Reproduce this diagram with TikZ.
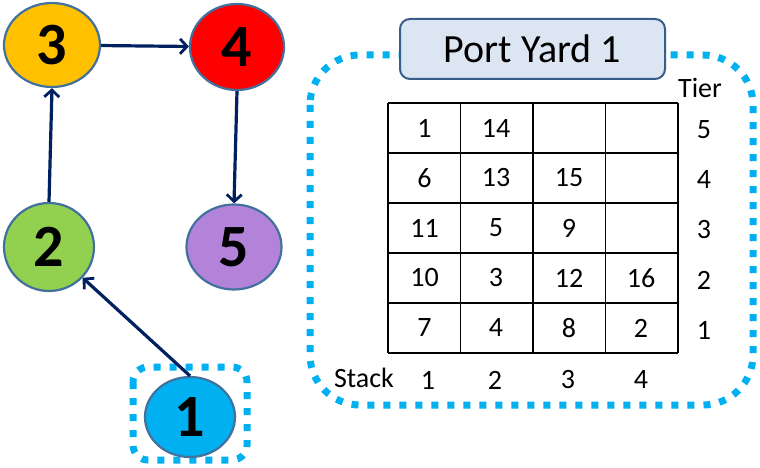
\documentclass[tikz,border=0pt]{standalone}
\usepackage{fontspec}
\setmainfont{Carlito}
\usetikzlibrary{shapes.geometric,arrows.meta}
\definecolor{navy}{HTML}{002060}
\definecolor{cyanb}{HTML}{00B0F0}
\definecolor{edgeb}{HTML}{41719C}
\definecolor{titlefill}{HTML}{DCE6F2}
\definecolor{titleedge}{HTML}{385D8A}
\definecolor{c3}{HTML}{FFC000}
\definecolor{c4}{HTML}{FF0000}
\definecolor{c2}{HTML}{92D050}
\definecolor{c5}{HTML}{B383DA}
\definecolor{c1}{HTML}{00B0F0}
\tikzset{
  vert/.style={ellipse, draw=edgeb, line width=2.2pt, inner sep=0pt,
    minimum width=94pt, minimum height=84pt,
    font=\fontsize{60}{60}\selectfont\bfseries},
  conn/.style={draw=navy, line width=3.2pt, -{Straight Barb[length=7pt,width=15pt,line width=2.8pt]}},
  dotbox/.style={draw=cyanb, line width=7pt, dash pattern=on 7pt off 9pt},
  cellnum/.style={font=\fontsize{28}{30}\selectfont, inner sep=0pt},
}
\begin{document}
\begin{tikzpicture}[x=1pt,y=-1pt]
\useasboundingbox (0,0) rectangle (760,468);
% yard dotted border
\draw[dotbox, rounded corners=50pt] (310,55) rectangle (753,405);
% title
\node[draw=titleedge, fill=titlefill, line width=2pt, rounded corners=10pt,
  minimum width=265pt, minimum height=60pt, inner sep=0pt,
  font=\fontsize{40}{42}\selectfont] (title) at (532.5,49) {Port Yard 1};
% table grid
\foreach \i in {0,...,4} {
  \draw[line width=1.5pt] ({388+72.5*\i},103) -- ({388+72.5*\i},353);
}
\draw[line width=1.5pt] (678,103) -- (678,353);
\foreach \j in {0,...,5} {
  \draw[line width=1.5pt] (388,{103+50*\j}) -- (678,{103+50*\j});
}
% cells
\foreach \r/\a/\b/\c/\d in {0/1/14//,1/6/13/15/,2/11/5/9/,3/10/3/12/16,4/7/4/8/2} {
  \node[cellnum] (c-\r-1) at (424.5,{128+50*\r}) {\a};
  \node[cellnum] (c-\r-2) at (496,{128+50*\r}) {\b};
  \node[cellnum] (c-\r-3) at (569,{128+50*\r}) {\c};
  \node[cellnum] (c-\r-4) at (641,{128+50*\r}) {\d};
}
% tier labels
\node[cellnum] (tier) at (700,88) {Tier};
\foreach \r/\t in {0/5,1/4,2/3,3/2,4/1} {
  \node[cellnum] (t-\t) at (704,{130+50*\r}) {\t};
}
% stack labels
\node[cellnum] (stack) at (364,378) {Stack};
\foreach \s/\x in {1/428,2/495,3/568,4/641} {
  \node[cellnum] (s-\s) at (\x,380) {\s};
}
% graph
\draw[dotbox, rounded corners=15pt] (133,367) rectangle (247,460);
\node[vert, fill=c3, minimum width=96pt] (n3) at (52,45) {3};
\node[vert, fill=c4, minimum height=86pt] (n4) at (237,47) {4};
\node[vert, fill=c2, minimum width=90pt, minimum height=88pt] (n2) at (49,247) {2};
\node[vert, fill=c5, minimum width=95pt, minimum height=85pt] (n5) at (234,247) {5};
\node[vert, fill=c1, minimum width=90pt, minimum height=80pt] (n1) at (190,417) {1};
\draw[conn] (n3) -- (n4);
\draw[conn] (n2.north) -- (n3.south);
\draw[conn] (n4.south) -- (n5.north);
\draw[conn] (n1.north) -- (n2);
\end{tikzpicture}
\end{document}
